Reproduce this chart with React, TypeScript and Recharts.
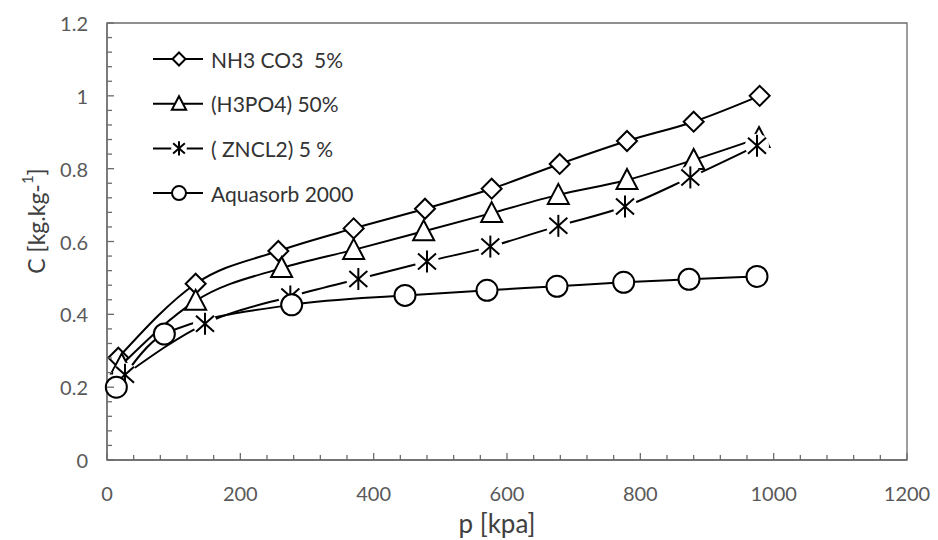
import { LineChart, Line, XAxis, YAxis, Legend, ReferenceArea } from "recharts";

// values
const NH3_X = [17, 133, 257, 370, 477, 577, 679, 780, 880, 979];
const NH3_Y = [0.281, 0.484, 0.574, 0.636, 0.69, 0.745, 0.813, 0.876, 0.929, 1.0];

const H3PO4_X = [22, 133, 262, 370, 475, 577, 677, 780, 880, 978];
const H3PO4_Y = [0.262, 0.437, 0.527, 0.577, 0.628, 0.678, 0.728, 0.769, 0.824, 0.884];

const ZNCL2_X = [27, 147, 275, 377, 480, 575, 677, 777, 875, 975];
const ZNCL2_Y = [0.234, 0.374, 0.449, 0.497, 0.545, 0.586, 0.643, 0.696, 0.776, 0.863];

const AQUA_X = [14, 86, 277, 447, 570, 675, 775, 873, 975];
const AQUA_Y = [0.2, 0.346, 0.426, 0.452, 0.466, 0.477, 0.488, 0.496, 0.504];

const SERIES_NAMES = ["NH3 CO3  5%", "(H3PO4) 50%", "( ZNCL2) 5 %", "Aquasorb 2000"];

const X_LABELS = [0, 200, 400, 600, 800, 1000, 1200];
const Y_LABELS = [0, 0.2, 0.4, 0.6, 0.8, 1, 1.2];

// minor ticks: 5 per major step
const X_TICKS = Array.from({ length: 31 }, (_, i) => i * 40);
const Y_TICKS = Array.from({ length: 31 }, (_, i) => Math.round(i * 4) / 100);

const zip = (xs: number[], ys: number[]) => xs.map((x, i) => ({ x, y: ys[i] }));

const nh3Data = zip(NH3_X, NH3_Y);
const h3po4Data = zip(H3PO4_X, H3PO4_Y);
const zncl2Data = zip(ZNCL2_X, ZNCL2_Y);
const aquaData = zip(AQUA_X, AQUA_Y);

const AXIS = "#6b6b6b";
const LABEL = "#595959";
const FONT = "Lato, 'Open Sans', sans-serif";

// ---- markers ----
function Diamond({ cx, cy, r = 10 }: any) {
    return (
        <polygon
            points={`${cx},${cy - r} ${cx + r},${cy} ${cx},${cy + r} ${cx - r},${cy}`}
            fill="#fff"
            stroke="#000"
            strokeWidth={2}
        />
    );
}

function Triangle({ cx, cy, s = 1 }: any) {
    const pts = [
        [cx, cy - 11 * s],
        [cx + 10.5 * s, cy + 9 * s],
        [cx - 10.5 * s, cy + 9 * s],
    ];
    return (
        <polygon
            points={pts.map(p => p.join(",")).join(" ")}
            fill="#fff"
            stroke="#000"
            strokeWidth={2}
        />
    );
}

function Star({ cx, cy, s = 1, gap = true }: any) {
    return (
        <g>
            {gap && <circle cx={cx} cy={cy} r={12 * s} fill="#fff" />}
            <line x1={cx} y1={cy - 11 * s} x2={cx} y2={cy + 11 * s} stroke="#000" strokeWidth={2} />
            <line x1={cx - 9 * s} y1={cy - 8 * s} x2={cx + 9 * s} y2={cy + 8 * s} stroke="#000" strokeWidth={2} />
            <line x1={cx - 9 * s} y1={cy + 8 * s} x2={cx + 9 * s} y2={cy - 8 * s} stroke="#000" strokeWidth={2} />
        </g>
    );
}

function Ring({ cx, cy, r = 10.5 }: any) {
    return <circle cx={cx} cy={cy} r={r} fill="#fff" stroke="#000" strokeWidth={2} />;
}

const dotOf = (Comp: any) => (p: any) => {
    if (p.cx == null || p.cy == null) return <g key={p.index} />;
    return <Comp key={`${p.dataKey}-${p.index}`} cx={p.cx} cy={p.cy} />;
};

// ---- ticks ----
function XTick({ x, y, payload }: any) {
    const v = payload.value;
    const major = X_LABELS.includes(v);
    return (
        <g>
            <line x1={x} x2={x} y1={y} y2={y - (major ? 7 : 5)} stroke={AXIS} strokeWidth={1.3} />
            {major && (
                <text x={x} y={y + 33} textAnchor="middle" dominantBaseline="central"
                    fontFamily={FONT} fontSize={20} fill={LABEL}>
                    {v}
                </text>
            )}
        </g>
    );
}

function YTick({ x, y, payload }: any) {
    const v = payload.value;
    const major = Y_LABELS.some(l => Math.abs(l - v) < 1e-6);
    return (
        <g>
            <line x1={x} x2={x + (major ? 7 : 5)} y1={y} y2={y} stroke={AXIS} strokeWidth={1.3} />
            {major && (
                <text x={x - 19} y={y} textAnchor="end" dominantBaseline="central"
                    fontFamily={FONT} fontSize={20} fill={LABEL}>
                    {String(Number(v.toFixed(1)))}
                </text>
            )}
        </g>
    );
}

function XTitle() {
    return (
        <text x={497} y={523} textAnchor="middle" dominantBaseline="central"
            fontFamily={FONT} fontSize={26} fill="#404040">
            p [kpa]
        </text>
    );
}

function YTitle() {
    return (
        <text transform="translate(36,221) rotate(-90)" textAnchor="middle" dominantBaseline="central"
            fontFamily={FONT} fontSize={23} fill="#404040">
            C [kg.kg-<tspan fontSize={15} dy={-9}>1</tspan><tspan dy={9}>]</tspan>
        </text>
    );
}

// ---- legend ----
const LEGEND_MARKERS = [
    (cx: number, cy: number) => <Diamond cx={cx} cy={cy} r={6.5} />,
    (cx: number, cy: number) => <Triangle cx={cx} cy={cy} s={0.68} />,
    (cx: number, cy: number) => <Star cx={cx} cy={cy} s={0.65} />,
    (cx: number, cy: number) => <Ring cx={cx} cy={cy} r={7} />,
];

function LegendBox() {
    return (
        <svg width={260} height={180} style={{ display: "block" }}>
            {SERIES_NAMES.map((name, i) => {
                const cy = 19 + i * 44.7;
                return (
                    <g key={name}>
                        <line x1={3} x2={53} y1={cy} y2={cy} stroke="#000" strokeWidth={2} />
                        {LEGEND_MARKERS[i](29, cy)}
                        <text x={61} y={cy} dominantBaseline="central" fontFamily={FONT}
                            fontSize={21} fill="#333" style={{ whiteSpace: "pre" }}>
                            {name}
                        </text>
                    </g>
                );
            })}
        </svg>
    );
}

export default function App() {
    return (
        <div style={{ position: "absolute", left: 0, top: 0, background: "#fff" }}>
            <LineChart width={938} height={540} margin={{ top: 23, right: 31, left: 0, bottom: 0 }}>
                <XAxis
                    type="number"
                    dataKey="x"
                    domain={[0, 1200]}
                    ticks={X_TICKS}
                    interval={0}
                    tickSize={0}
                    tickMargin={0}
                    tick={<XTick />}
                    tickLine={false}
                    axisLine={{ stroke: AXIS, strokeWidth: 1.3 }}
                    height={80}
                    allowDuplicatedCategory={false}
                    label={XTitle}
                />
                <YAxis
                    type="number"
                    dataKey="y"
                    domain={[0, 1.2]}
                    ticks={Y_TICKS}
                    interval={0}
                    tickSize={0}
                    tickMargin={0}
                    tick={<YTick />}
                    tickLine={false}
                    axisLine={{ stroke: AXIS, strokeWidth: 1.3 }}
                    width={107}
                    label={YTitle}
                />
                <ReferenceArea x1={0} x2={1200} y1={0} y2={1.2} fill="none" stroke={AXIS}
                    strokeWidth={1.3} ifOverflow="visible" />
                <Legend
                    layout="vertical"
                    align="center"
                    verticalAlign="middle"
                    content={LegendBox}
                    wrapperStyle={{ position: "absolute", left: 150, top: 40, width: 260, height: 180 }}
                />
                <Line data={nh3Data} dataKey="y" name={SERIES_NAMES[0]} type="monotone"
                    stroke="#000" strokeWidth={2} dot={dotOf(Diamond)} activeDot={false}
                    isAnimationActive={false} />
                <Line data={h3po4Data} dataKey="y" name={SERIES_NAMES[1]} type="monotone"
                    stroke="#000" strokeWidth={2} dot={dotOf(Triangle)} activeDot={false}
                    isAnimationActive={false} />
                <Line data={zncl2Data} dataKey="y" name={SERIES_NAMES[2]} type="monotone"
                    stroke="#000" strokeWidth={2} dot={dotOf(Star)} activeDot={false}
                    isAnimationActive={false} />
                <Line data={aquaData} dataKey="y" name={SERIES_NAMES[3]} type="monotone"
                    stroke="#000" strokeWidth={2} dot={dotOf(Ring)} activeDot={false}
                    isAnimationActive={false} />
            </LineChart>
        </div>
    );
}
